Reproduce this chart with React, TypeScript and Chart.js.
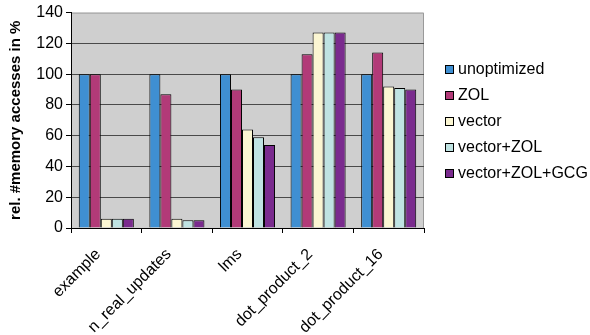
import React, { useEffect, useRef } from "react";
import { Chart, registerables } from "chart.js";

Chart.register(...registerables);

const categories = ["example", "n_real_updates", "lms", "dot_product_2", "dot_product_16"];
const unoptimized = [100, 100, 100, 100, 100];
const zol = [100, 87, 90, 113, 114];
const vector = [6, 6, 64, 127, 92];
const vectorZol = [6, 5, 59, 127, 91];
const vectorZolGcg = [6, 5, 54, 127, 90];
const seriesNames = ["unoptimized", "ZOL", "vector", "vector+ZOL", "vector+ZOL+GCG"];
const seriesColors = ["#3f8fd2", "#b23a78", "#fbf6d2", "#bfe3e2", "#7a2b8e"];
const yTicks = [0, 20, 40, 60, 80, 100, 120, 140];

const FONT = "'Liberation Sans', Arial, sans-serif";

const plotBackground = {
  id: "plotBackground",
  beforeDraw(chart: any) {
    const { ctx, chartArea } = chart;
    ctx.save();
    ctx.fillStyle = "#cfcfcf";
    ctx.fillRect(chartArea.left, chartArea.top, chartArea.right - chartArea.left, chartArea.bottom - chartArea.top);
    ctx.strokeStyle = "#9a9a9a";
    ctx.lineWidth = 1;
    ctx.beginPath();
    ctx.moveTo(chartArea.left, chartArea.top + 0.5);
    ctx.lineTo(chartArea.right - 0.5, chartArea.top + 0.5);
    ctx.lineTo(chartArea.right - 0.5, chartArea.bottom);
    ctx.stroke();
    ctx.restore();
  },
};

const sideLegend = {
  id: "sideLegend",
  afterDraw(chart: any) {
    const { ctx } = chart;
    const x = 445;
    const y0 = 69;
    const step = 26;
    ctx.save();
    ctx.font = `16px ${FONT}`;
    ctx.textBaseline = "middle";
    ctx.textAlign = "left";
    chart.data.datasets.forEach((ds: any, i: number) => {
      const cy = y0 + i * step;
      ctx.fillStyle = ds.backgroundColor;
      ctx.fillRect(x, cy - 4, 9, 9);
      ctx.strokeStyle = "#000";
      ctx.lineWidth = 1;
      ctx.strokeRect(x + 0.5, cy - 3.5, 8, 8);
      ctx.fillStyle = "#000";
      ctx.fillText(ds.label, x + 13, cy + 1);
    });
    ctx.restore();
  },
};

export default function App() {
  const canvasRef = useRef<HTMLCanvasElement | null>(null);

  useEffect(() => {
    if (!canvasRef.current) return;
    const values = [unoptimized, zol, vector, vectorZol, vectorZolGcg];
    const chart = new Chart(canvasRef.current, {
      type: "bar",
      data: {
        labels: categories,
        datasets: values.map((data, i) => ({
          label: seriesNames[i],
          data,
          backgroundColor: seriesColors[i],
          borderColor: "#000",
          borderWidth: 1,
          categoryPercentage: 0.78,
          barPercentage: 1,
        })),
      },
      options: {
        animation: false,
        responsive: false,
        maintainAspectRatio: false,
        layout: { padding: { top: 11, right: 166, left: 0, bottom: 0 } },
        plugins: {
          legend: { display: false },
          tooltip: { enabled: false },
        },
        scales: {
          x: {
            grid: {
              offset: true,
              drawOnChartArea: false,
              drawTicks: true,
              tickLength: 5,
              tickColor: "#000",
            },
            border: { color: "#000", width: 1 },
            ticks: {
              color: "#000",
              font: { family: FONT, size: 16 },
              maxRotation: 45,
              minRotation: 45,
              autoSkip: false,
              padding: 12,
              labelOffset: -8,
            },
            afterFit(scale: any) {
              scale.height = 335 - 228;
            },
          },
          y: {
            min: 0,
            max: 140,
            afterBuildTicks(scale: any) {
              scale.ticks = yTicks.map((v) => ({ value: v }));
            },
            grid: {
              color: (c: any) => (c.tick && c.tick.value === 140 ? "rgba(0,0,0,0)" : "#4a4a4a"),
              tickColor: "#000",
              tickLength: 5,
            },
            border: { color: "#000", width: 1 },
            ticks: {
              color: "#000",
              font: { family: FONT, size: 16 },
              padding: 3,
            },
            title: {
              display: true,
              text: "rel. #memory accesses in %",
              color: "#000",
              font: { family: FONT, size: 15, weight: "bold" },
              padding: { top: 7, bottom: 0 },
            },
            afterFit(scale: any) {
              scale.width = 71;
            },
          },
        },
      },
      plugins: [plotBackground, sideLegend],
    });
    return () => chart.destroy();
  }, []);

  return (
    <div style={{ position: "fixed", left: 0, top: 0, width: 590, height: 335, background: "#fff" }}>
      <canvas ref={canvasRef} width={590} height={335} style={{ width: 590, height: 335 }} />
    </div>
  );
}
